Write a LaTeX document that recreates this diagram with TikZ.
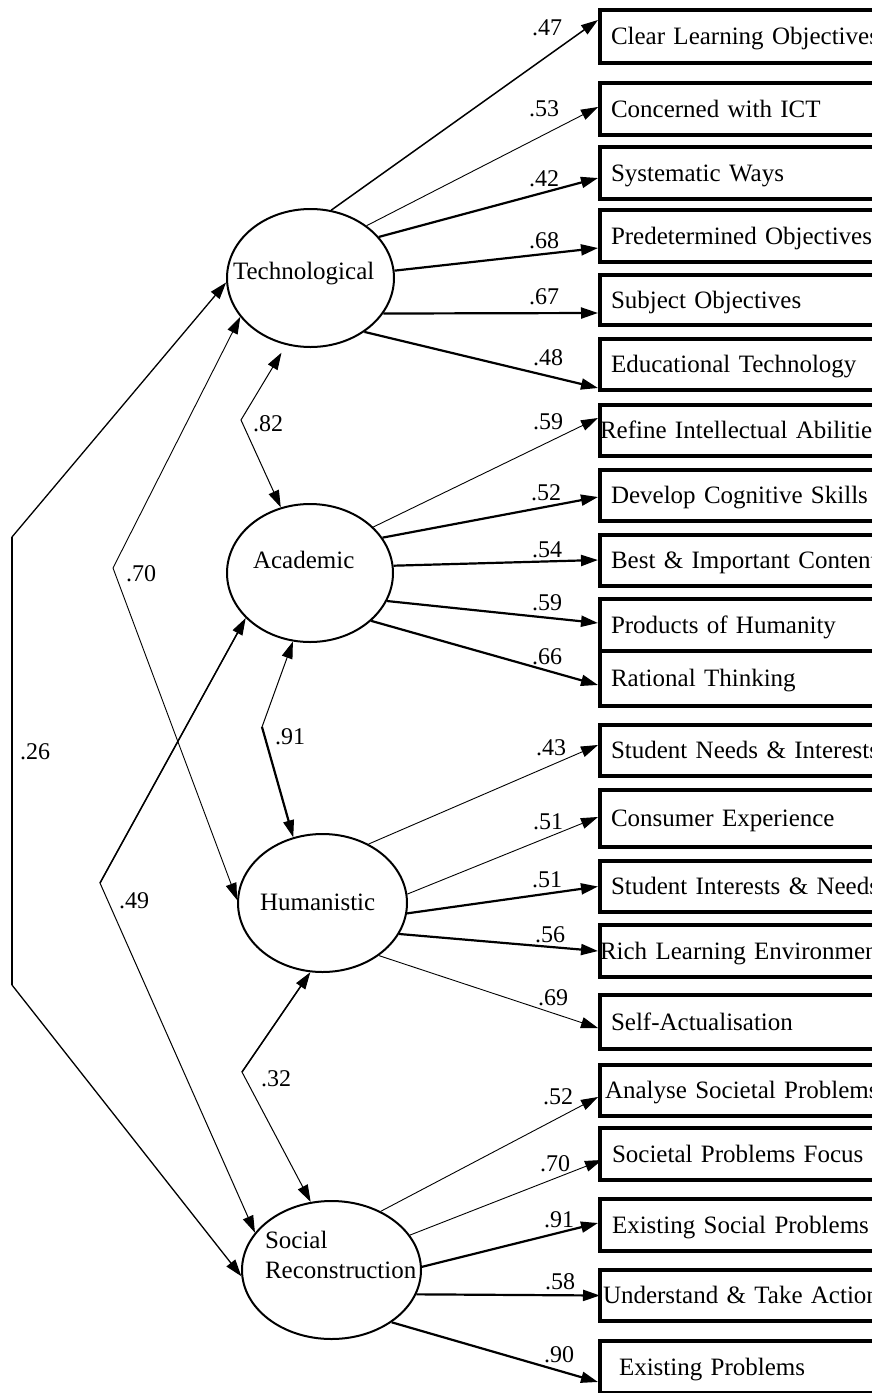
\documentclass[tikz,border=0pt]{standalone}
\usepackage{fontspec}
\setmainfont{Liberation Serif}
\usetikzlibrary{shapes.geometric, arrows.meta}
\newcommand{\lvname}[3]{\raisebox{#2}[0pt][0pt]{\makebox[0pt][l]{\hspace*{#1}#3}}}

\begin{document}
\begin{tikzpicture}[x=1pt, y=-1pt, >={Triangle[length=17pt, width=11pt]},
                    latent/.style={ellipse, draw=black, line width=2pt, minimum width=167pt, minimum height=138pt, inner sep=0pt, font=\fontsize{25pt}{30pt}\selectfont},
                    obsbox/.style={rectangle, draw=black, line width=4pt, anchor=west, text width=300pt, align=left, inner xsep=#1, inner ysep=0pt, minimum height=51pt, text height=18pt, text depth=2pt, font=\fontsize{25pt}{30pt}\selectfont},
                    obsbox/.default=11pt,
                    coef/.style={inner sep=0pt, font=\fontsize{24pt}{28pt}\selectfont},
                    thinarrow/.style={->, line width=0.9pt},
                    midarrow/.style={->, line width=1.5pt},
                    boldarrow/.style={->, line width=2.2pt},
                    covline/.style={<->, line width=#1},
                    covline/.default=1pt]
    \useasboundingbox (0,0) rectangle (872,1393);
    % factors
    \node[latent]                        (tech)   at (310.5,278) {\lvname{-77.5pt}{-1pt}{Technological}};
    \node[latent, minimum width=166pt]   (acad)   at (310,573)   {\lvname{-57pt}{5pt}{Academic}};
    \node[latent, minimum width=169pt]   (human)  at (322.5,903) {\lvname{-62.5pt}{-7pt}{Humanistic}};
    \node[latent, minimum width=179pt]   (social) at (331.5,1270) {\lvname{-66.5pt}{22pt}{\begin{tabular}[t]{@{}l@{}}Social\\Reconstruction\end{tabular}}};
    % indicators
    \node[obsbox, minimum height=53pt]   (b1)  at (598,36.5)  {Clear Learning Objectives};
    \node[obsbox, minimum height=52pt]   (b2)  at (598,109)   {Concerned with ICT};
    \node[obsbox, minimum height=52pt]   (b3)  at (598,173)   {Systematic Ways};
    \node[obsbox, minimum height=52pt]   (b4)  at (598,236)   {Predetermined Objectives};
    \node[obsbox, minimum height=50pt]   (b5)  at (598,300)   {Subject Objectives};
    \node[obsbox]                        (b6)  at (598,364.5) {Educational Technology};
    \node[obsbox=0pt]                    (b7)  at (598,430.5) {Refine Intellectual Abilities};
    \node[obsbox]                        (b8)  at (598,495.5) {Develop Cognitive Skills};
    \node[obsbox]                        (b9)  at (598,560.5) {Best \& Important Content};
    \node[obsbox, minimum height=52pt]   (b10) at (598,625)   {Products of Humanity};
    \node[obsbox, minimum height=55pt]   (b11) at (598,678.5) {Rational Thinking};
    \node[obsbox]                        (b12) at (598,750.5) {Student Needs \& Interests};
    \node[obsbox, minimum height=57pt]   (b13) at (598,818.5) {Consumer Experience};
    \node[obsbox]                        (b14) at (598,886.5) {Student Interests \& Needs};
    \node[obsbox=0pt, minimum height=52pt] (b15) at (598,951) {Rich Learning Environment};
    \node[obsbox, minimum height=54pt]   (b16) at (598,1022)  {Self-Actualisation};
    \node[obsbox=5pt]                    (b17) at (598,1090.5) {Analyse Societal Problems};
    \node[obsbox=12pt, minimum height=52pt] (b18) at (598,1154) {Societal Problems Focus};
    \node[obsbox=12pt, minimum height=52pt] (b19) at (598,1225) {Existing Social Problems};
    \node[obsbox=3pt]                    (b20) at (598,1295.5) {Understand \& Take Action};
    \node[obsbox=19pt, minimum height=52pt] (b21) at (598,1367) {Existing Problems};
    % loadings
    \draw[midarrow]  (tech.73)  -- ([yshift=16.5pt]b1.west);
    \draw[thinarrow] (tech.43)  -- ([yshift=2pt]b2.west);
    \draw[boldarrow] (tech.31)  -- ([yshift=-5pt]b3.west);
    \draw[boldarrow] (tech.5)   -- ([yshift=-12pt]b4.west);
    \draw[boldarrow] (tech.-26) -- ([yshift=-13pt]b5.west);
    \draw[boldarrow] (tech.-45) -- ([yshift=-23.5pt]b6.west);
    \draw[thinarrow] (acad.36)  -- ([yshift=12.5pt]b7.west);
    \draw[boldarrow] (acad.26)  -- ([yshift=-1.5pt]b8.west);
    \draw[boldarrow] (acad.5)   -- ([yshift=0.5pt]b9.west);
    \draw[boldarrow] (acad.-20) -- ([yshift=2pt]b10.west);
    \draw[boldarrow] (acad.-38) -- ([yshift=-6.5pt]b11.west);
    \draw[thinarrow] (human.52)  -- ([yshift=5.5pt]b12.west);
    \draw[thinarrow] (human.6.5) -- ([yshift=1.5pt]b13.west);
    \draw[boldarrow] (human.-7)  -- (b14.west);
    \draw[boldarrow] (human.-22) -- (b15.west);
    \draw[thinarrow] (human.-43) -- ([yshift=-6pt]b16.west);
    \draw[thinarrow] (social.50)  -- ([yshift=-6.5pt]b17.west);
    \draw[thinarrow] (social.24)  -- ([xshift=4pt,yshift=-6pt]b18.west);
    \draw[boldarrow] (social.2)   -- ([yshift=2pt]b19.west);
    \draw[boldarrow] (social.-16) -- ([xshift=2pt]b20.west);
    \draw[boldarrow] (social.-41) -- ([yshift=-15pt]b21.west);
    % loading values
    \node[coef] (c1)  at (547,28)   {.47};
    \node[coef] (c2)  at (544,109)  {.53};
    \node[coef] (c3)  at (544,179)  {.42};
    \node[coef] (c4)  at (544,241)  {.68};
    \node[coef] (c5)  at (544,297)  {.67};
    \node[coef] (c6)  at (548,358)  {.48};
    \node[coef] (c7)  at (548,422)  {.59};
    \node[coef] (c8)  at (546,493)  {.52};
    \node[coef] (c9)  at (547,550)  {.54};
    \node[coef] (c10) at (547,603)  {.59};
    \node[coef] (c11) at (547,657)  {.66};
    \node[coef] (c12) at (551,748)  {.43};
    \node[coef] (c13) at (548,822)  {.51};
    \node[coef] (c14) at (547,880)  {.51};
    \node[coef] (c15) at (550,935)  {.56};
    \node[coef] (c16) at (553,998)  {.69};
    \node[coef] (c17) at (558,1097) {.52};
    \node[coef] (c18) at (555,1164) {.70};
    \node[coef] (c19) at (559,1220) {.91};
    \node[coef] (c20) at (560,1282) {.58};
    \node[coef] (c21) at (559,1355) {.90};
    % correlations
    \coordinate (k26a) at (12,537);
    \coordinate (k26b) at (12,985);
    \coordinate (k70)  at (113,568);
    \coordinate (k82)  at (241,420);
    \coordinate (k49)  at (100,883);
    \coordinate (k91)  at (262,727);
    \coordinate (k32)  at (242,1072);
    \draw[covline=1.3pt] (tech.183) -- (k26a) -- (k26b) -- (social.184);
    \draw[line width=2.6pt] (k26a) -- (k26b);
    \draw[covline=0.9pt] (tech.209) -- (k70) -- (human.178);
    \draw[covline, shorten <=9pt] (tech.250) -- (k82) -- (acad.114);
    \draw[covline] (acad.215) -- (k49) -- (social.154);
    \draw[line width=1.5pt, shorten <=10pt] (acad.215) -- (k49);
    \draw[covline] (acad.256) -- (k91) -- (human.114);
    \draw[line width=2.2pt, shorten >=10pt] (k91) -- (human.114);
    \draw[covline] (human.260) -- (k32) -- (social.107.5);
    \draw[line width=1.5pt, shorten <=10pt] (human.260) -- (k32);
    \node[coef] (r26) at (35,752)  {.26};
    \node[coef] (r70) at (141,574) {.70};
    \node[coef] (r82) at (268,424) {.82};
    \node[coef] (r91) at (290,737) {.91};
    \node[coef] (r49) at (134,901) {.49};
    \node[coef] (r32) at (276,1079) {.32};
\end{tikzpicture}
\end{document}
